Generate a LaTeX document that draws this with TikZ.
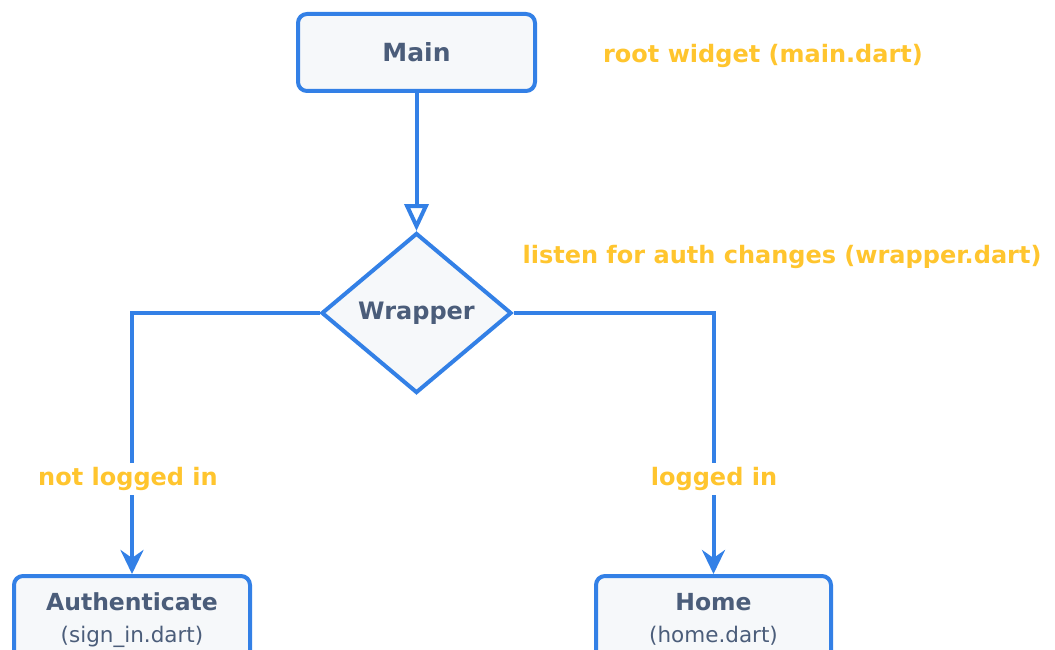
\documentclass[tikz,border=0pt]{standalone}
\usepackage{fontspec}
\setmainfont{DejaVu Sans}
\usetikzlibrary{arrows.meta,shapes.geometric}
\definecolor{flowblue}{HTML}{3380E6}
\definecolor{boxfill}{HTML}{F6F8FA}
\definecolor{inktext}{HTML}{4B5D7A}
\definecolor{notegold}{HTML}{FFC52E}
\tikzset{
  x=1pt, y=-1pt,
  flowbox/.style={draw=flowblue, line width=4pt, fill=boxfill, rounded corners=9pt,
    text=inktext, align=center, inner xsep=0pt},
  leafbox/.style={flowbox, anchor=north, inner ysep=17pt,
    font=\fontsize{23.5}{32}\selectfont},
  decision/.style={draw=flowblue, line width=4pt, fill=boxfill, diamond, aspect=1.1875,
    minimum width=190pt, minimum height=160pt, inner sep=0pt, text=inktext,
    font=\fontsize{24}{28}\selectfont\bfseries},
  link/.style={draw=flowblue, line width=4pt},
  note/.style={text=notegold, font=\fontsize{24}{28}\selectfont\bfseries, inner sep=1pt},
  tagnote/.style={note, fill=white, inner sep=4pt},
}
\newcommand{\subline}[1]{{\fontsize{21.5}{32}\selectfont #1}}
\begin{document}
\begin{tikzpicture}
\useasboundingbox (0,0) rectangle (1055,650);
\clip (0,0) rectangle (1055,650);

% boxes
\node[flowbox, minimum width=237pt, minimum height=77pt, inner sep=0pt,
  font=\fontsize{25}{28}\selectfont\bfseries] (main) at (416.5,52.5) {Main};
\node[decision] (wrap) at (416.5,313) {Wrapper};
\node[leafbox, minimum width=236pt] (auth) at (132,574)
  {\textbf{Authenticate}\\\subline{(sign\_in.dart)}};
\node[leafbox, minimum width=235pt] (home) at (713.5,574)
  {\textbf{Home}\\\subline{(home.dart)}};

% connectors
\draw[link, -{Triangle[open, length=27pt, width=24pt, line width=4pt]}] (main.south) -- (wrap.north);
\draw[link, -{Stealth[length=24pt, width=23pt, inset=8pt]}] (wrap.west) -| (auth.north);
\draw[link, -{Stealth[length=24pt, width=23pt, inset=8pt]}] (wrap.east) -| (home.north);

% annotations
\node[note] (rootnote) at (763,56) {root widget (main.dart)};
\node[note] (authnote) at (782,257) {listen for auth changes (wrapper.dart)};
\node[tagnote] (outtag) at (128,479) {not logged in};
\node[tagnote] (intag) at (714,479) {logged in};
\end{tikzpicture}
\end{document}
